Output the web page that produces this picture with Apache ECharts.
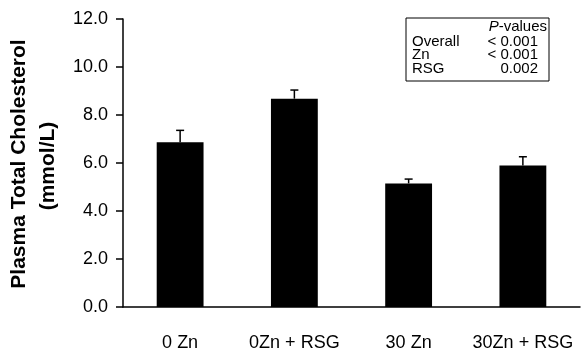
<!DOCTYPE html>
<html lang="en">
<head>
  <meta charset="UTF-8">
  <title>Plasma Total Cholesterol</title>
  <style>
    body { margin: 0; background: #fff; }
  </style>
</head>
<body>
  <div id="main" style="width:581px;height:354px;"></div>

  <script src="https://cdn.jsdelivr.net/npm/echarts@6/dist/echarts.min.js"></script>
  <script>
    var categories = ['0 Zn', '0Zn + RSG', '30 Zn', '30Zn + RSG']
    var means = [6.86, 8.68, 5.15, 5.9]
    var errTop = [7.36, 9.04, 5.33, 6.26] // mean + SE

    var pLabels = ['Overall', 'Zn', 'RSG']
    var pValues = ['< 0.001', '< 0.001', '0.002']

    var myChart = echarts.init(document.getElementById('main'))
    var font = 'Liberation Sans, Arial, sans-serif'

    // text inside the p-value box
    var boxText = []
    boxText.push({
      type: 'text', right: 34, top: 19,
      style: { text: '{i|P}-values', font: '15px ' + font, fill: '#000',
        rich: { i: { fontStyle: 'italic', fontSize: 15, fontFamily: font } } }
    })
    pLabels.forEach(function (l, i) {
      boxText.push({ type: 'text', left: 412, top: 34 + i * 13.5,
        style: { text: l, font: '15px ' + font, fill: '#000' } })
      boxText.push({ type: 'text', right: 43, top: 34 + i * 13.5,
        style: { text: pValues[i], font: '15px ' + font, fill: '#000' } })
    })

    var options = {
      animation: false,
      grid: { left: 123, right: 1, top: 19, bottom: 47 },
      xAxis: {
        type: 'category',
        data: categories,
        axisLine: { lineStyle: { color: '#000', width: 1.5 } },
        axisTick: { length: 6, lineStyle: { color: '#000', width: 1.5 } },
        axisLabel: { color: '#000', fontSize: 18, fontFamily: font, margin: 27,
          interval: 0, hideOverlap: false }
      },
      yAxis: {
        type: 'value',
        min: 0, max: 12, interval: 2,
        splitLine: { show: false },
        axisLine: { show: true, lineStyle: { color: '#000', width: 1.5 } },
        axisTick: { show: true, length: 7, lineStyle: { color: '#000', width: 1.5 } },
        axisLabel: { color: '#000', fontSize: 18, fontFamily: font, margin: 15,
          formatter: function (v) { return v.toFixed(1) } }
      },
      series: [
        {
          type: 'bar',
          data: means,
          barWidth: '41%',
          itemStyle: { color: '#000' }
        },
        {
          type: 'custom',
          data: errTop.map(function (e, i) { return [i, means[i], e] }),
          renderItem: function (params, api) {
            var base = api.coord([api.value(0), api.value(1)])
            var top = api.coord([api.value(0), api.value(2)])
            var half = 4
            return {
              type: 'group',
              children: [
                { type: 'line', shape: { x1: base[0], y1: base[1], x2: top[0], y2: top[1] },
                  style: { stroke: '#000', lineWidth: 1.5 } },
                { type: 'line', shape: { x1: top[0] - half, y1: top[1], x2: top[0] + half, y2: top[1] },
                  style: { stroke: '#000', lineWidth: 1.5 } }
              ]
            }
          },
          z: 5
        }
      ],
      graphic: [
        { type: 'rect', shape: { x: 406, y: 18, width: 143, height: 63 },
          style: { fill: '#fff', stroke: '#000', lineWidth: 1 } },
        {
          type: 'text', rotation: Math.PI / 2,
          x: 9, y: 164,
          style: { text: 'Plasma Total Cholesterol', font: 'bold 21px ' + font,
            fill: '#000', align: 'center', verticalAlign: 'top' }
        },
        {
          type: 'text', rotation: Math.PI / 2,
          x: 38, y: 166,
          style: { text: '(mmol/L)', font: 'bold 21px ' + font,
            fill: '#000', align: 'center', verticalAlign: 'top' }
        }
      ].concat(boxText)
    }
    myChart.setOption(options)
  </script>
</body>
</html>
